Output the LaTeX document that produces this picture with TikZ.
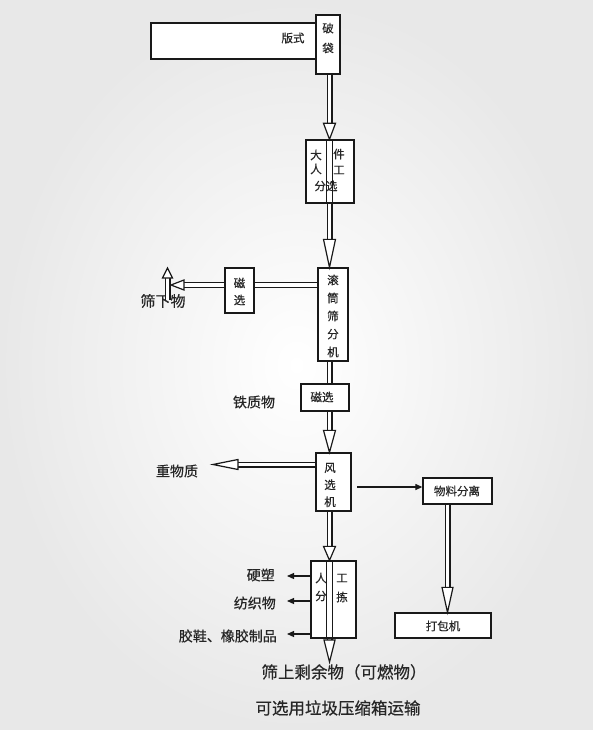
\documentclass[tikz,border=0pt]{standalone}
\usepackage{fontspec}
\setmainfont[FakeBold=0.5]{Noto Sans CJK SC}
\usetikzlibrary{calc,arrows.meta}
\tikzset{
  box/.style={draw=black!90, line width=1.3pt, fill=white, inner sep=0pt},
  boxtxt/.style={inner sep=0pt, text=black!85, font=\fontsize{11.5}{17}\selectfont, align=center},
  lbl/.style={inner sep=0pt, text=black!85, font=\fontsize{14}{16}\selectfont},
  big/.style={inner sep=0pt, text=black!85, font=\fontsize{16.5}{18}\selectfont},
  dbl/.style={draw=black!90, double=white, double distance=3.6pt, line width=1.2pt},
  thin/.style={draw=black!90, line width=1.2pt},
  head/.style={draw=black!90, line width=1.2pt, fill=white, line join=miter},
  sarrow/.style={draw=black!90, line width=1.2pt, -{Triangle[length=7pt,width=6pt]}}
}
\newcommand\dblarrow[4]{%
  \coordinate (ds) at (#1);
  \coordinate (de) at (#2);
  \coordinate (hb) at ($(de)!#3!(ds)$);
  \draw[dbl] (ds) -- (hb);
  \draw[head] ($(hb)!#4!90:(de)$) -- (de) -- ($(hb)!#4!-90:(de)$) -- cycle;
}
\newcommand\dblplain[2]{%
  \coordinate (ds) at (#1);
  \coordinate (de) at (#2);
  \draw[dbl] (ds) -- (de);
}
\newcommand\vthrough[2]{%
  \coordinate (ds) at (#1);
  \coordinate (de) at (#2);
  \draw[thin] ([xshift=-2.9pt]ds) -- ([xshift=-2.9pt]de);
  \draw[thin] ([xshift=2.9pt]ds) -- ([xshift=2.9pt]de);
}
\begin{document}
\begin{tikzpicture}[x=1pt,y=-1pt]
\useasboundingbox (0,0) rectangle (593,730);
\shade[inner color=white, outer color=black!9] (0,0) rectangle (593,730);

% reference coordinates
\coordinate (T) at (329.5,0);
\coordinate (V) at (447.5,0);
\coordinate (h1) at (0,285);
\coordinate (h2) at (0,464.5);
\coordinate (h3) at (0,487);
\coordinate (h4) at (0,576);
\coordinate (h5) at (0,601);
\coordinate (h6) at (0,634);

% boxes
\node[box, minimum width=165pt, minimum height=36pt] (fmt) at (233.5,41) {};
\node[boxtxt] (fmtt) at (293,38) {版式};
\node[box, minimum width=24pt, minimum height=59pt] (pd) at (328,44.5) {};
\node[boxtxt, font=\fontsize{11.5}{20}\selectfont] (pdt) at (328,38) {破\\袋};

\node[box, minimum width=48pt, minimum height=63pt] (bg) at (330,171.5) {};
\node[boxtxt] (bg1) at (316,155) {大};
\node[boxtxt] (bg2) at (316,169) {人};
\node[boxtxt] (bg3) at (339,154) {件};
\node[boxtxt] (bg4) at (339,170) {工};
\node[boxtxt] (bg5) at (326,186) {分选};

\node[box, minimum width=30pt, minimum height=93pt] (roll) at (333,314.5) {};
\node[boxtxt, font=\fontsize{11.5}{18}\selectfont] (rollt) at (333,316) {滚\\筒\\筛\\分\\机};

\node[box, minimum width=29pt, minimum height=45pt] (mag1) at (239.5,290.5) {};
\node[boxtxt] (mag1t) at (239.5,291.5) {磁\\选};

\node[box, minimum width=48pt, minimum height=27pt] (mag2) at (325,397.5) {};
\node[boxtxt] (mag2t) at (322,397) {磁选};

\node[box, minimum width=35pt, minimum height=58pt] (wind) at (333.5,482) {};
\node[boxtxt] (windt) at (330,485) {风\\选\\机};

\node[box, minimum width=69pt, minimum height=26pt] (sep) at (457.5,491) {};
\node[boxtxt] (sept) at (457,491) {物料分离};

\node[box, minimum width=96pt, minimum height=25pt] (pack) at (443,625.5) {};
\node[boxtxt] (packt) at (443,626) {打包机};

\node[box, minimum width=45pt, minimum height=77pt] (sort) at (333.5,599.5) {};
\node[boxtxt] (sort1) at (321,578) {人};
\node[boxtxt] (sort2) at (321,596) {分};
\node[boxtxt] (sort3) at (342,578) {工};
\node[boxtxt] (sort4) at (342,597) {拣};

% labels
\node[lbl, font=\fontsize{15}{16}\selectfont] (under) at (163,301) {筛下物};
\node[lbl] (iron) at (254,402) {铁质物};
\node[lbl] (heavy) at (177,471) {重物质};
\node[lbl, anchor=east] (hard) at (275,575) {硬塑};
\node[lbl, anchor=east] (text) at (276,603) {纺织物};
\node[lbl, anchor=east] (shoe) at (277,636) {胶鞋、橡胶制品};
\node[big] (rest) at (344,672) {筛上剩余物（可燃物）};
\node[big] (trans) at (338,708) {可选用垃圾压缩箱运输};

% end coordinates
\coordinate (lt1) at (171,285);
\coordinate (ub) at (167.5,300);
\coordinate (ut) at (167.5,268);
\coordinate (lt2) at (213,464.5);
\coordinate (wst) at (357,487);
\coordinate (tend) at (329.5,662);
\coordinate (s1) at (287,576);
\coordinate (s2) at (287,601);
\coordinate (s3) at (287,634);

% main trunk
\dblarrow{pd.south -| T}{bg.north -| T}{16pt}{6pt}
\vthrough{bg.north -| T}{bg.south -| T}
\dblarrow{bg.south -| T}{roll.north -| T}{28pt}{6pt}
\dblplain{roll.south -| T}{mag2.north -| T}
\dblarrow{mag2.south -| T}{wind.north -| T}{22pt}{6pt}
\dblarrow{wind.south -| T}{sort.north -| T}{14pt}{6pt}
\vthrough{sort.north -| T}{sort.south -| T}
\dblarrow{sort.south -| T}{tend}{22pt}{5.5pt}

% side branches
\dblplain{roll.west |- h1}{mag1.east |- h1}
\dblarrow{mag1.west |- h1}{lt1}{13pt}{5pt}
\dblarrow{ub}{ut}{10pt}{5pt}
\dblarrow{wind.west |- h2}{lt2}{25pt}{5pt}
\dblarrow{sep.south -| V}{pack.north -| V}{25pt}{5.5pt}

% single arrows
\draw[sarrow] (wst) -- (sep.west |- h3);
\draw[sarrow] (sort.west |- h4) -- (s1);
\draw[sarrow] (sort.west |- h5) -- (s2);
\draw[sarrow] (sort.west |- h6) -- (s3);
\end{tikzpicture}
\end{document}
